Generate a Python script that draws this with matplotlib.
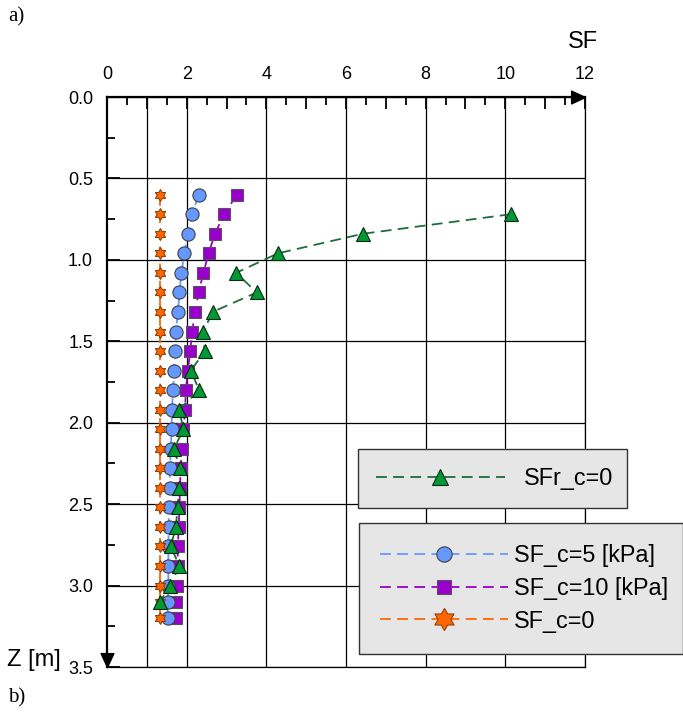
import numpy as np
import matplotlib
matplotlib.use("Agg")
import matplotlib.pyplot as plt
from matplotlib.lines import Line2D
from matplotlib.path import Path
from matplotlib.ticker import MultipleLocator, FuncFormatter

plt.rcParams['font.family'] = ['Liberation Sans', 'DejaVu Sans']

##### DATA #####

depth = [0.6, 0.72, 0.84, 0.96, 1.08, 1.2, 1.32, 1.44, 1.56, 1.68, 1.8, 1.92,
         2.04, 2.16, 2.28, 2.4, 2.52, 2.64, 2.76, 2.88, 3.0, 3.1, 3.2]
sf_c0 = [1.33, 1.33, 1.33, 1.33, 1.33, 1.33, 1.33, 1.33, 1.33, 1.33, 1.33, 1.33,
         1.33, 1.33, 1.33, 1.33, 1.33, 1.33, 1.33, 1.33, 1.33, 1.33, 1.33]
sf_c5 = [2.30, 2.14, 2.03, 1.94, 1.87, 1.82, 1.78, 1.73, 1.71, 1.68, 1.66, 1.63,
         1.62, 1.60, 1.58, 1.57, 1.56, 1.55, 1.54, 1.54, 1.54, 1.53, 1.52]
sf_c10 = [3.26, 2.94, 2.71, 2.55, 2.42, 2.30, 2.21, 2.14, 2.09, 2.03, 1.98, 1.96,
          1.92, 1.88, 1.85, 1.83, 1.82, 1.80, 1.78, 1.77, 1.75, 1.73, 1.72]

depth_r = [0.72, 0.84, 0.96, 1.08, 1.2, 1.32, 1.44, 1.56, 1.68, 1.8, 1.92,
           2.04, 2.16, 2.28, 2.4, 2.52, 2.64, 2.76, 2.88, 3.0, 3.1]
sfr_c0 = [10.13, 6.42, 4.29, 3.24, 3.76, 2.65, 2.42, 2.45, 2.11, 2.31, 1.81,
          1.92, 1.68, 1.83, 1.82, 1.77, 1.73, 1.60, 1.82, 1.58, 1.33]

x_grid = [1, 2, 4, 6, 8, 10, 12]

###!### six pointed star marker
ang_out = np.deg2rad(90 + 60 * np.arange(6))
ang_in = ang_out + np.deg2rad(30)
star_v = []
for a, b in zip(ang_out, ang_in):
    star_v.append((np.cos(a), np.sin(a)))
    star_v.append((np.cos(b) / np.sqrt(3), np.sin(b) / np.sqrt(3)))
star_v.append(star_v[0])
hexagram = Path(star_v, closed=True)

arrow_r = Path([(0, 0), (-1, -0.46), (-1, 0.46), (0, 0)], closed=True)
arrow_d = Path([(0, 0), (-0.46, 1), (0.46, 1), (0, 0)], closed=True)

##### STYLES #####

c_blue, c_purple, c_orange = '#6699FF', '#9900CC', '#FF6600'
c_green_l, c_green_m = '#1A6E3C', '#009933'
dash = (6, 3.5)

fig = plt.figure(figsize=(6.83, 7.14), dpi=100)
ax = fig.add_axes([107 / 683, 1 - 667 / 714, 478 / 683, 570 / 714])

ax.plot(sf_c10, depth, color=c_purple, lw=1.3, dashes=dash, marker='s', ms=9,
        mfc=c_purple, mec='#555555', mew=0.8, zorder=3)
ax.plot(sf_c5, depth, color=c_blue, lw=1.3, dashes=dash, marker='o', ms=9.5,
        mfc=c_blue, mec='#404040', mew=0.8, zorder=4)
ax.plot(sf_c0, depth, color=c_orange, lw=1.3, dashes=dash, marker=hexagram, ms=8.5,
        mfc=c_orange, mec='#8B3A00', mew=0.7, zorder=5)
ax.plot(sfr_c0, depth_r, color=c_green_l, lw=1.3, dashes=dash, marker='^', ms=9.5,
        mfc=c_green_m, mec='#0B2A12', mew=0.8, zorder=6)

ax.set_xlim(0, 12)
ax.set_ylim(3.5, 0)

for xv in x_grid:
    ax.axvline(xv, color='black', lw=0.9, zorder=1)
ax.yaxis.set_major_locator(MultipleLocator(0.5))
ax.yaxis.set_minor_locator(MultipleLocator(0.25))
ax.yaxis.set_major_formatter(FuncFormatter(lambda v, p: f"{v:.1f}"))
ax.grid(axis='y', which='major', color='black', lw=0.9, zorder=1)

ax.xaxis.tick_top()
ax.xaxis.set_major_locator(MultipleLocator(1))
ax.xaxis.set_minor_locator(MultipleLocator(0.5))
ax.xaxis.set_major_formatter(FuncFormatter(lambda v, p: f"{v:.0f}" if round(v) % 2 == 0 else ""))

ax.tick_params(axis='x', which='major', direction='in', length=8.6, width=1.3,
               labelsize=13, pad=10, top=True, bottom=False)
ax.tick_params(axis='x', which='minor', direction='in', length=5.5, width=1.3,
               top=True, bottom=False)
ax.tick_params(axis='y', which='major', direction='in', length=9.4, width=1.3,
               labelsize=13, pad=10, left=True, right=False)
ax.tick_params(axis='y', which='minor', direction='in', length=5.5, width=1.3,
               left=True, right=False)

for s in ['top', 'left']:
    ax.spines[s].set_linewidth(1.6)
for s in ['bottom', 'right']:
    ax.spines[s].set_linewidth(0.9)

###!### arrow heads on the axes
ax.plot(1, 1, marker=arrow_r, ms=20, color='black', transform=ax.transAxes,
        clip_on=False, zorder=10)
ax.plot(0, 0, marker=arrow_d, ms=20, color='black', transform=ax.transAxes,
        clip_on=False, zorder=10)

fig.text(583 / 683, 1 - 42 / 714, 'SF', fontsize=17, ha='center', va='center')
fig.text(34 / 683, 1 - 660 / 714, 'Z [m]', fontsize=17, ha='center', va='center')
fig.text(8 / 683, 1 - 17 / 714, 'a)', fontsize=15, family='Liberation Serif',
         ha='left', va='center')
fig.text(8 / 683, 1 - 698 / 714, 'b)', fontsize=15, family='Liberation Serif',
         ha='left', va='center')

##### LEGENDS #####

h_r = Line2D([], [], color=c_green_l, lw=1.3, dashes=dash, marker='^', ms=11,
             mfc=c_green_m, mec='#0B2A12', mew=0.8)
h5 = Line2D([], [], color=c_blue, lw=1.3, dashes=dash, marker='o', ms=11,
            mfc=c_blue, mec='#404040', mew=0.8)
h10 = Line2D([], [], color=c_purple, lw=1.3, dashes=dash, marker='s', ms=10,
             mfc=c_purple, mec='#555555', mew=0.8)
h0 = Line2D([], [], color=c_orange, lw=1.3, dashes=dash, marker=hexagram, ms=16,
            mfc=c_orange, mec='#8B3A00', mew=0.7)

leg_kw = dict(loc='upper left', mode='expand', borderaxespad=0, fontsize=16.8,
              handlelength=5.5, numpoints=1, fancybox=False, framealpha=1,
              facecolor='#E6E6E6', edgecolor='#333333')
l1 = fig.legend([h_r], ['SFr_c=0'], bbox_to_anchor=(358 / 683, 1 - 449 / 714, 269 / 683, 0),
                borderpad=0.78, handletextpad=0.85, **leg_kw)
l2 = fig.legend([h5, h10, h0], ['SF_c=5 [kPa]', 'SF_c=10 [kPa]', 'SF_c=0'],
                bbox_to_anchor=(359 / 683, 1 - 523 / 714, 324 / 683, 0),
                borderpad=0.9, handletextpad=0.25, labelspacing=0.42, **leg_kw)
for l in (l1, l2):
    l.get_frame().set_linewidth(1.0)
    l.set_zorder(20)

fig.savefig('out.png', dpi=100)
